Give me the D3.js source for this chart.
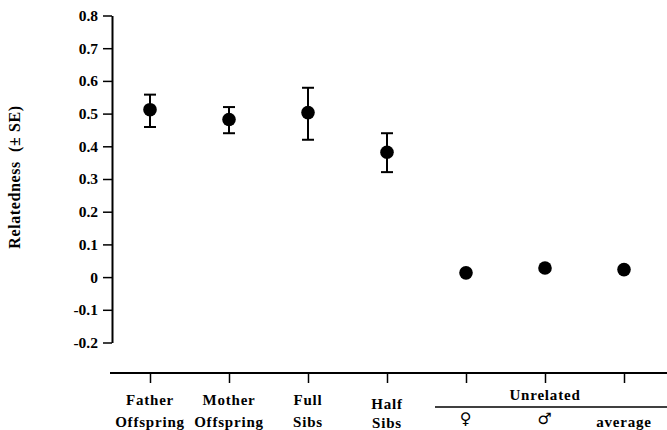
<!DOCTYPE html>
<html>
<head>
<meta charset="utf-8">
<script src="https://cdn.jsdelivr.net/npm/d3@7"></script>
<style>
  body { margin: 0; background: #fff; }
  text { font-family: "Liberation Serif", serif; font-weight: bold; fill: #000; }
</style>
</head>
<body>
<div id="chart"></div>
<script>
// data
var groups = ["father", "mother", "full", "half", "female", "male", "average"];
var line1 = ["Father", "Mother", "Full", "Half", "", "", ""];
var line2 = ["Offspring", "Offspring", "Sibs", "Sibs", "\u2640", "\u2642", "average"];
var means = [0.512, 0.482, 0.503, 0.382, 0.013, 0.028, 0.023];
var upper = [0.558, 0.520, 0.579, 0.440, null, null, null];
var lower = [0.459, 0.440, 0.420, 0.321, null, null, null];
var yTicks = [-0.2, -0.1, 0, 0.1, 0.2, 0.3, 0.4, 0.5, 0.6, 0.7, 0.8];

var svgWidth = 667;
var svgHeight = 430;

var svg = d3.select("#chart")
  .append("svg")
  .attr("width", svgWidth)
  .attr("height", svgHeight);

var y = d3.scaleLinear()
  .domain([-0.2, 0.8])
  .range([342.5, 15.5]);

var x = d3.scalePoint()
  .domain(groups)
  .range([150, 624]);

// y axis
var leftAxis = d3.axisLeft(y)
  .tickValues(yTicks)
  .tickSize(9)
  .tickSizeOuter(0)
  .tickPadding(5)
  .tickFormat(function(d) { return d === 0 ? "0" : d.toFixed(1); });

var yAxisG = svg.append("g")
  .attr("transform", "translate(112,0)")
  .call(leftAxis);
yAxisG.select(".domain").attr("stroke-width", 2);
yAxisG.selectAll(".tick line").attr("stroke-width", 1.5);
yAxisG.selectAll("text")
  .attr("font-size", "15.5px")
  .style("font-family", "Liberation Serif")
  .style("font-weight", "bold");

// y title
svg.append("text")
  .attr("transform", "translate(20,177) rotate(-90)")
  .attr("text-anchor", "middle")
  .attr("font-size", "16px")
  .attr("letter-spacing", "0.6px")
  .text("Relatedness\u00a0\u00a0(\u00b1 SE)");

// x axis: separate line below the plot
svg.append("line")
  .attr("x1", 110).attr("x2", 667)
  .attr("y1", 373).attr("y2", 373)
  .attr("stroke", "#000").attr("stroke-width", 2);

var bottomAxis = d3.axisBottom(x).tickSize(10).tickSizeOuter(0).tickFormat("");
var xAxisG = svg.append("g")
  .attr("transform", "translate(0,373)")
  .call(bottomAxis);
xAxisG.select(".domain").remove();
xAxisG.selectAll(".tick line").attr("stroke-width", 1.5);

// category labels
var labelsG = svg.append("g")
  .attr("font-size", "15px")
  .attr("letter-spacing", "0.8px")
  .attr("text-anchor", "middle");
groups.forEach(function(g, i) {
  var dy = g === "half" ? 4 : 0;
  var symbol = i === 4 || i === 5;
  if (line1[i]) {
    labelsG.append("text").attr("x", x(g)).attr("y", 405 + dy).text(line1[i]);
  }
  labelsG.append("text")
    .attr("x", x(g))
    .attr("y", symbol ? 424 : 427 + (g === "half" ? 1 : 0))
    .attr("font-size", symbol ? "16px" : null)
    .style("font-family", symbol ? "DejaVu Sans" : null)
    .style("font-weight", symbol ? "normal" : null)
    .text(line2[i]);
});

// "Unrelated" bracket
svg.append("text")
  .attr("x", x("male"))
  .attr("y", 400)
  .attr("text-anchor", "middle")
  .attr("font-size", "15px")
  .attr("letter-spacing", "0.8px")
  .text("Unrelated");
svg.append("line")
  .attr("x1", 435).attr("x2", 667)
  .attr("y1", 407).attr("y2", 407)
  .attr("stroke", "#000").attr("stroke-width", 1.5);

// error bars
var errData = groups.map(function(g, i) {
  return { g: g, m: means[i], hi: upper[i], lo: lower[i] };
}).filter(function(d) { return d.hi !== null; });

var errG = svg.append("g").attr("stroke", "#000").attr("stroke-width", 2);
errG.selectAll(".stem")
  .data(errData)
  .enter()
  .append("line")
  .attr("x1", d => x(d.g)).attr("x2", d => x(d.g))
  .attr("y1", d => y(d.hi)).attr("y2", d => y(d.lo));
errG.selectAll(".capHi")
  .data(errData)
  .enter()
  .append("line")
  .attr("x1", d => x(d.g) - 6).attr("x2", d => x(d.g) + 6)
  .attr("y1", d => y(d.hi)).attr("y2", d => y(d.hi));
errG.selectAll(".capLo")
  .data(errData)
  .enter()
  .append("line")
  .attr("x1", d => x(d.g) - 6).attr("x2", d => x(d.g) + 6)
  .attr("y1", d => y(d.lo)).attr("y2", d => y(d.lo));

// points
svg.selectAll("circle")
  .data(means)
  .enter()
  .append("circle")
  .attr("cx", (d, i) => x(groups[i]))
  .attr("cy", d => y(d))
  .attr("r", 6.8)
  .attr("fill", "#000");
</script>
</body>
</html>
